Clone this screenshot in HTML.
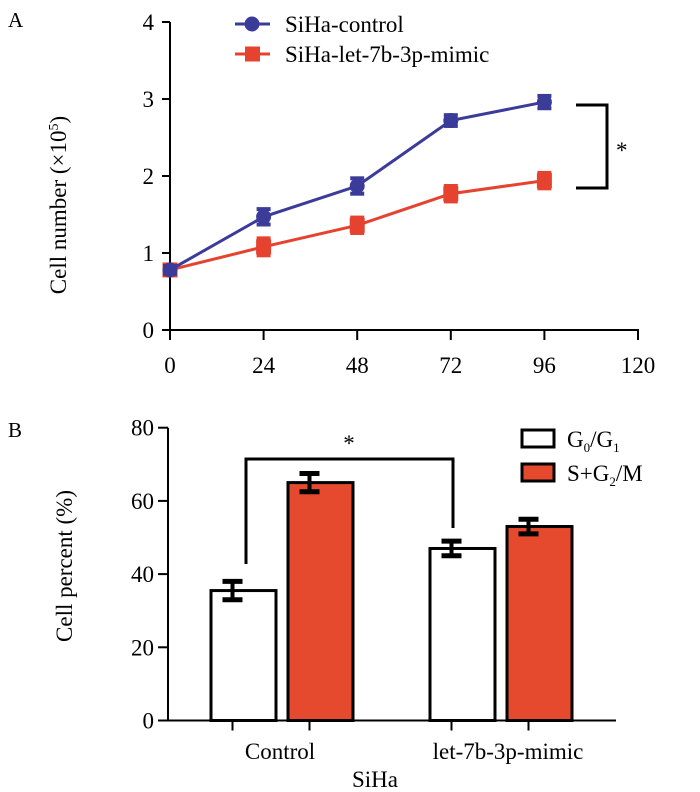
<!DOCTYPE html>
<html><head><meta charset="utf-8"><style>
body{margin:0;background:#fff;}
svg{display:block;font-family:"Liberation Serif",serif;}
</style></head><body>
<svg id="c" width="700" height="792" viewBox="0 0 700 792"></svg>
<script>
const ns="http://www.w3.org/2000/svg";
const svg=document.getElementById('c');
// Panel A data
const hours=[0,24,48,72,96];
const xTicksA=[0,24,48,72,96,120];
const yTicksA=[0,1,2,3,4];
const controlVals=[0.78,1.47,1.87,2.72,2.96];
const controlErr=[0.05,0.1,0.1,0.07,0.08];
const mimicVals=[0.78,1.08,1.36,1.77,1.94];
const mimicErr=[0.05,0.11,0.1,0.1,0.1];
// Panel B data
const groups=["Control","let-7b-3p-mimic"];
const g0g1Vals=[35.5,47];
const g0g1Err=[2.5,2];
const sg2mVals=[65,53];
const sg2mErr=[2.5,2];
const yTicksB=[0,20,40,60,80];
const FS=23;

function el(t,a,p){const e=document.createElementNS(ns,t);for(const k in a)e.setAttribute(k,a[k]);(p||svg).appendChild(e);return e;}
function txt(s,a,p){const e=el('text',a,p);e.textContent=s;return e;}

// ---------- Panel A ----------
const xA=v=>170+v*(638-170)/120;
const yA=v=>330-v*77;
const gA=el('g',{});


const pa=txt('A',{x:8,y:27,'font-size':21},gA);

el('line',{x1:xA(0),y1:yA(4),x2:xA(0),y2:yA(0)+1,stroke:'#000','stroke-width':2},gA);
el('line',{x1:xA(0)-1,y1:yA(0),x2:xA(120)+1,y2:yA(0),stroke:'#000','stroke-width':2},gA);
yTicksA.forEach(v=>{
 el('line',{x1:xA(0)-8,y1:yA(v),x2:xA(0),y2:yA(v),stroke:'#000','stroke-width':2},gA);
 const t=txt(String(v),{x:xA(0)-16,y:yA(v)+8,'font-size':FS,'text-anchor':'end'},gA);
 
});
xTicksA.forEach(v=>{
 el('line',{x1:xA(v),y1:yA(0),x2:xA(v),y2:yA(0)+10,stroke:'#000','stroke-width':2},gA);
 const t=txt(String(v),{x:xA(v),y:yA(0)+43,'font-size':FS,'text-anchor':'middle'},gA);
 
});
const yta=txt('Cell number (×10',{transform:'translate(66,205) rotate(-90)','font-size':FS,'text-anchor':'middle'},gA);
const sup=el('tspan',{dy:-8,'font-size':14},yta);sup.textContent='5';
const cl=el('tspan',{dy:8},yta);cl.textContent=')';


function series(vals,errs,color,shape,name){
 const g=el('g',{},gA);
 
 el('polyline',{points:vals.map((v,i)=>xA(hours[i])+','+yA(v)).join(' '),fill:'none',stroke:color,'stroke-width':3},g);
 vals.forEach((v,i)=>{
  const x=xA(hours[i]),y=yA(v),e=errs[i]*77;
  el('line',{x1:x,y1:y-e,x2:x,y2:y+e,stroke:color,'stroke-width':4},g);
  el('line',{x1:x-7,y1:y-e,x2:x+7,y2:y-e,stroke:color,'stroke-width':4},g);
  el('line',{x1:x-7,y1:y+e,x2:x+7,y2:y+e,stroke:color,'stroke-width':4},g);
  if(shape==='c')el('circle',{cx:x,cy:y,r:7.5,fill:color},g);
  else el('rect',{x:x-7.5,y:y-7.5,width:15,height:15,fill:color},g);
 });
}
series(mimicVals,mimicErr,'#e5432f','s','series-mimic');
series(controlVals,controlErr,'#3b3b99','c','series-control');
// legend A
const lgA=el('g',{},gA);

el('line',{x1:235,y1:24,x2:270,y2:24,stroke:'#3b3b99','stroke-width':3},lgA);
el('circle',{cx:252,cy:24,r:7.5,fill:'#3b3b99'},lgA);
txt('SiHa-control',{x:285,y:32,'font-size':FS},lgA);
el('line',{x1:235,y1:54,x2:270,y2:54,stroke:'#e5432f','stroke-width':3},lgA);
el('rect',{x:245,y:46.5,width:15,height:15,fill:'#e5432f'},lgA);
txt('SiHa-let-7b-3p-mimic',{x:285,y:62,'font-size':FS},lgA);
// significance A
const sa=el('polyline',{points:'576,105 607,105 607,188 576,188',fill:'none',stroke:'#000','stroke-width':3},gA);

txt('*',{x:616,y:158,'font-size':FS},gA);

// ---------- Panel B ----------
const yB=v=>720.5-v*(720.5-427.7)/80;
const barW=65;
const gB=el('g',{});


const pb=txt('B',{x:8,y:437,'font-size':21},gB);

const groupLeft=[211,430];
groups.forEach((gname,i)=>{
 const x0=groupLeft[i];
 [[g0g1Vals,g0g1Err,'#fff',0,'bar-g0g1-'],[sg2mVals,sg2mErr,'#e5492e',77,'bar-sg2m-']].forEach(([vals,errs,fill,off,nm])=>{
  const x=x0+off,v=vals[i];
  const r=el('rect',{x:x,y:yB(v),width:barW,height:yB(0)-yB(v),fill:fill,stroke:'#000','stroke-width':3},gB);
  
  const cx=x+barW/2-11,e=errs[i];
  el('line',{x1:cx,y1:yB(v+e),x2:cx,y2:yB(v-e),stroke:'#000','stroke-width':4},gB);
  el('line',{x1:cx-10,y1:yB(v+e),x2:cx+10,y2:yB(v+e),stroke:'#000','stroke-width':5},gB);
  el('line',{x1:cx-10,y1:yB(v-e),x2:cx+10,y2:yB(v-e),stroke:'#000','stroke-width':5},gB);
  el('line',{x1:cx,y1:yB(0),x2:cx,y2:yB(0)+10,stroke:'#000','stroke-width':2},gB);
 });
 const t=txt(gname,{x:[280,508][i],y:759,'font-size':FS,'text-anchor':'middle'},gB);
 
});
el('line',{x1:168,y1:yB(80),x2:168,y2:yB(0)+1,stroke:'#000','stroke-width':2},gB);
el('line',{x1:167,y1:yB(0),x2:616,y2:yB(0),stroke:'#000','stroke-width':2},gB);
yTicksB.forEach(v=>{
 el('line',{x1:158,y1:yB(v),x2:168,y2:yB(v),stroke:'#000','stroke-width':2},gB);
 const t=txt(String(v),{x:154,y:yB(v)+8,'font-size':FS,'text-anchor':'end'},gB);
 
});
const ytb=txt('Cell percent (%)',{transform:'translate(72,566) rotate(-90)','font-size':FS,'text-anchor':'middle'},gB);

const xtb=txt('SiHa',{x:375,y:787,'font-size':FS,'text-anchor':'middle'},gB);

const sb=el('polyline',{points:'246,564 246,459 453,459 453,528',fill:'none',stroke:'#000','stroke-width':3},gB);

txt('*',{x:349,y:451,'font-size':FS,'text-anchor':'middle'},gB);
// legend B
const lgB=el('g',{},gB);

el('rect',{x:522,y:430,width:32,height:17,fill:'#fff',stroke:'#000','stroke-width':3},lgB);
const l1=txt('G',{x:567,y:447,'font-size':FS},lgB);
let s=el('tspan',{dy:5,'font-size':13},l1);s.textContent='0';
s=el('tspan',{dy:-5},l1);s.textContent='/G';
s=el('tspan',{dy:5,'font-size':13},l1);s.textContent='1';
el('rect',{x:522,y:464,width:32,height:17,fill:'#e5492e',stroke:'#000','stroke-width':3},lgB);
const l2=txt('S+G',{x:567,y:481,'font-size':FS},lgB);
s=el('tspan',{dy:5,'font-size':13},l2);s.textContent='2';
s=el('tspan',{dy:-5},l2);s.textContent='/M';
</script>
</body></html>
